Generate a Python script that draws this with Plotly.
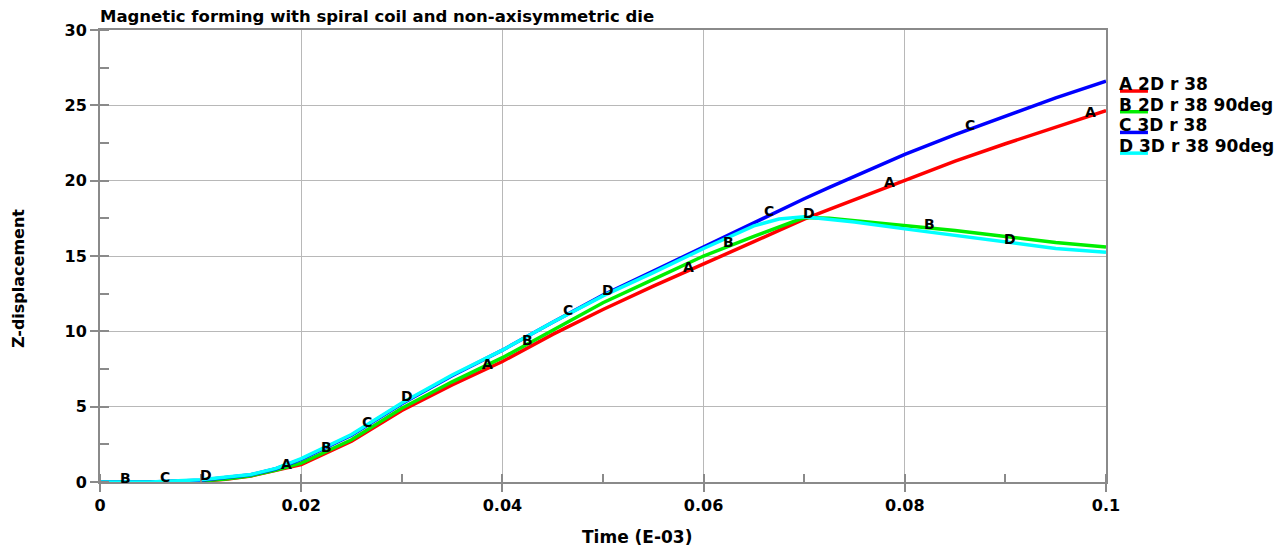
import numpy as np
import plotly.graph_objects as go

title = "Magnetic forming with spiral coil and non-axisymmetric die"
x_title = "Time (E-03)"
y_title = "Z-displacement"

t = [0, 0.005, 0.01, 0.0125, 0.015, 0.0175, 0.02, 0.025, 0.03, 0.035, 0.04, 0.045,
     0.05, 0.055, 0.06, 0.065, 0.0675, 0.07, 0.0725, 0.075, 0.08, 0.085, 0.09, 0.095, 0.1]

a_2d_r38 = [0, 0, 0.06, 0.18, 0.4, 0.75, 1.15, 2.7, 4.75, 6.45, 8.0, 9.8,
            11.45, 13.0, 14.45, 15.95, 16.7, 17.45, 18.1, 18.75, 20.0, 21.3, 22.45, 23.55, 24.65]
b_2d_r38_90 = [0, 0, 0.07, 0.2, 0.42, 0.8, 1.25, 2.8, 4.9, 6.65, 8.25, 10.1,
               11.9, 13.45, 15.0, 16.3, 16.95, 17.55, 17.5, 17.35, 17.0, 16.7, 16.3, 15.9, 15.6]
c_3d_r38 = [0, 0, 0.12, 0.28, 0.48, 0.88, 1.5, 3.1, 5.2, 7.05, 8.75, 10.6,
            12.4, 14.0, 15.6, 17.25, 18.0, 18.8, 19.55, 20.3, 21.75, 23.05, 24.3, 25.5, 26.6]
d_3d_r38_90 = [0, 0, 0.15, 0.3, 0.5, 0.9, 1.55, 3.15, 5.25, 7.1, 8.75, 10.6,
               12.35, 13.9, 15.5, 17.0, 17.45, 17.6, 17.45, 17.25, 16.8, 16.35, 15.9, 15.5, 15.25]

letters = ["A", "B", "C", "D"]
names = ["2D r 38", "2D r 38 90deg", "3D r 38", "3D r 38 90deg"]
series = [a_2d_r38, b_2d_r38_90, c_3d_r38, d_3d_r38_90]
colors = ["#ff0000", "#00ee00", "#0000ff", "#00ffff"]
# label positions along each curve (period 0.02)
label_t = [
    [0.0185, 0.0385, 0.0585, 0.0785, 0.0985],
    [0.0025, 0.0225, 0.0425, 0.0625, 0.0825],
    [0.0065, 0.0265, 0.0465, 0.0665, 0.0865],
    [0.0105, 0.0305, 0.0505, 0.0705, 0.0905],
]

x_ticks = [0, 0.02, 0.04, 0.06, 0.08, 0.1]
y_ticks = [0, 5, 10, 15, 20, 25, 30]

FONT = "DejaVu Sans"
fig = go.Figure()
for ys, c, nm in zip(series, colors, names):
    fig.add_trace(go.Scatter(x=t, y=ys, mode="lines", line=dict(color=c, width=3.5),
                             name=nm, showlegend=False, hoverinfo="skip"))

annotations = []
for letter, ys, lts in zip(letters, series, label_t):
    for lt in lts:
        yv = float(np.interp(lt, t, ys))
        annotations.append(dict(x=lt, y=yv, xref="x", yref="y", text=f"<b>{letter}</b>",
                                showarrow=False, yshift=4,
                                font=dict(family=FONT, size=14, color="black")))

# custom legend
shapes = []
leg_top = 0.8805
leg_step = 0.0458
for i, (letter, nm, c) in enumerate(zip(letters, names, colors)):
    yline = leg_top - i * leg_step - 0.0155
    shapes.append(dict(type="line", xref="paper", yref="paper", x0=1.0139, x1=1.0417,
                       y0=yline, y1=yline, line=dict(color=c, width=3.5)))
    annotations.append(dict(x=1.0199, y=leg_top - i * leg_step, xref="paper", yref="paper",
                            text=f"<b>{letter} {nm}</b>", showarrow=False, xanchor="left",
                            yanchor="middle", xshift=-9,
                            font=dict(family=FONT, size=17, color="black")))

annotations.append(dict(x=0, y=1.0288, xref="paper", yref="paper", text=f"<b>{title}</b>",
                        showarrow=False, xanchor="left", yanchor="middle", xshift=-2,
                        font=dict(family=FONT, size=16.5, color="black")))
annotations.append(dict(x=0.5335, y=-0.1217, xref="paper", yref="paper", text=f"<b>{x_title}</b>",
                        showarrow=False, xanchor="center", yanchor="middle",
                        font=dict(family=FONT, size=17, color="black")))
annotations.append(dict(x=-0.0815, y=0.449, xref="paper", yref="paper", text=f"<b>{y_title}</b>",
                        showarrow=False, xanchor="center", yanchor="middle", textangle=-90,
                        font=dict(family=FONT, size=16, color="black")))

axis_common = dict(showline=True, linecolor="#8a8a8a", linewidth=2, mirror=True,
                   showgrid=True, gridcolor="#b8b8b8", gridwidth=1, zeroline=False,
                   ticks="outside", ticklen=8, tickcolor="#8a8a8a", tickwidth=1.5,
                   automargin=False,
                   tickfont=dict(family=FONT, size=16, color="black"))

fig.update_layout(
    width=1286, height=547,
    margin=dict(l=100, r=180, t=30, b=65),
    paper_bgcolor="white", plot_bgcolor="white",
    showlegend=False,
    annotations=annotations,
    shapes=shapes,
    xaxis=dict(range=[0, 0.1], tickvals=x_ticks, ticktext=[f"<b>{v:g}</b>" for v in x_ticks],
               minor=dict(dtick=0.01, ticks="inside", ticklen=8, tickcolor="#8a8a8a", showgrid=False),
               **axis_common),
    yaxis=dict(range=[0, 30], tickvals=y_ticks, ticktext=[f"<b>{v:g}</b>" for v in y_ticks],
               minor=dict(dtick=2.5, ticks="inside", ticklen=9, tickcolor="#8a8a8a", showgrid=False),
               **axis_common),
)

fig.write_html("out.html", config={"displayModeBar": False},
               post_script="document.body.style.margin='0';document.body.style.overflow='hidden';")
